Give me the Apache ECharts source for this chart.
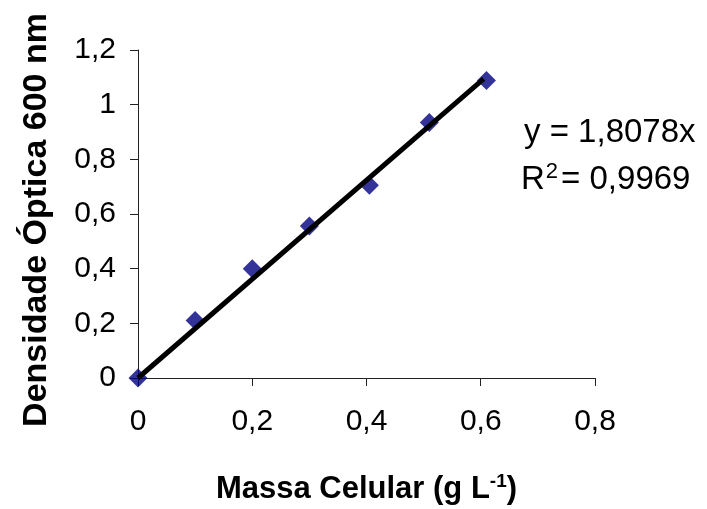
<!DOCTYPE html>
<html>
<head>
<meta charset="utf-8">
<script src="https://cdn.jsdelivr.net/npm/echarts@6/dist/echarts.min.js"></script>
<style>
  html, body { margin: 0; padding: 0; background: #fff; }
  #chart { width: 707px; height: 509px; }
</style>
</head>
<body>
<div id="chart"></div>
<script>
// measured points (g/L vs OD600)
const massa = [0, 0.1, 0.2, 0.3, 0.405, 0.51, 0.61];
const densidade = [0, 0.21, 0.40, 0.556, 0.705, 0.935, 1.088];

// linear trend line end points as drawn
const trendX = [0, 0.605];
const trendY = [0, 1.094];

const xTickLabels = ["0", "0,2", "0,4", "0,6", "0,8"];
const yTickLabels = ["0", "0,2", "0,4", "0,6", "0,8", "1", "1,2"];

const eqLine1 = "y = 1,8078x";
const eqLine2 = "{t|R}{sup|2}{t|= 0,9969}";

const font = "Liberation Sans, Arial, sans-serif";

const chart = echarts.init(document.getElementById("chart"), null, { renderer: "canvas" });

const axisCommon = {
  type: "value",
  splitLine: { show: false },
  axisLine: { show: true, lineStyle: { color: "#222", width: 1 } },
  axisTick: { show: true, inside: false, length: 8, lineStyle: { color: "#222", width: 1 } },
  nameLocation: "middle",
  nameTextStyle: { fontFamily: font, fontWeight: "bold", color: "#000" },
};

const option = {
  backgroundColor: "#fff",
  animation: false,
  grid: {
    left: 138,
    right: 112,
    top: 50,
    bottom: 131,
    containLabel: false,
    outerBoundsMode: "none",
  },
  xAxis: {
    ...axisCommon,
    min: 0,
    max: 0.8,
    interval: 0.2,
    name: "{t|Massa Celular (g L}{sup|-1}{t|)}",
    nameGap: 94,
    nameTextStyle: {
      ...axisCommon.nameTextStyle,
      rich: {
        t: { fontFamily: font, fontWeight: "bold", fontSize: 31, color: "#000", lineHeight: 34 },
        sup: { fontFamily: font, fontWeight: "bold", fontSize: 19, color: "#000", verticalAlign: "top", lineHeight: 34 },
      },
    },
    axisLabel: {
      margin: 29,
      fontSize: 30,
      fontFamily: font,
      color: "#000",
      formatter: (v, i) => xTickLabels[i],
    },
  },
  yAxis: {
    ...axisCommon,
    min: 0,
    max: 1.2,
    interval: 0.2,
    name: "Densidade Óptica 600 nm",
    nameGap: 84,
    nameTextStyle: { ...axisCommon.nameTextStyle, fontSize: 34, padding: [0, 12, 0, 0] },
    axisLabel: {
      margin: 22,
      fontSize: 30,
      fontFamily: font,
      color: "#000",
      formatter: (v, i) => yTickLabels[i],
    },
  },
  series: [
    {
      type: "scatter",
      data: massa.map((x, i) => [x, densidade[i]]),
      symbol: "diamond",
      symbolSize: 19,
      itemStyle: { color: "#000080" },
      z: 2,
    },
    {
      type: "line",
      data: trendX.map((x, i) => [x, trendY[i]]),
      showSymbol: false,
      symbol: "none",
      lineStyle: { color: "#000", width: 5 },
      z: 3,
    },
  ],
  graphic: [
    {
      type: "text",
      left: 524,
      top: 116,
      style: { text: eqLine1, fontFamily: font, fontSize: 33, fill: "#000" },
    },
    {
      type: "text",
      left: 521,
      top: 161,
      style: {
        text: eqLine2,
        rich: {
          t: { fontFamily: font, fontSize: 33, fill: "#000", lineHeight: 38 },
          sup: { fontFamily: font, fontSize: 22, fill: "#000", verticalAlign: "top", lineHeight: 38, padding: [0, 3, 0, 1] },
        },
      },
    },
  ],
};

chart.setOption(option);
</script>
</body>
</html>
